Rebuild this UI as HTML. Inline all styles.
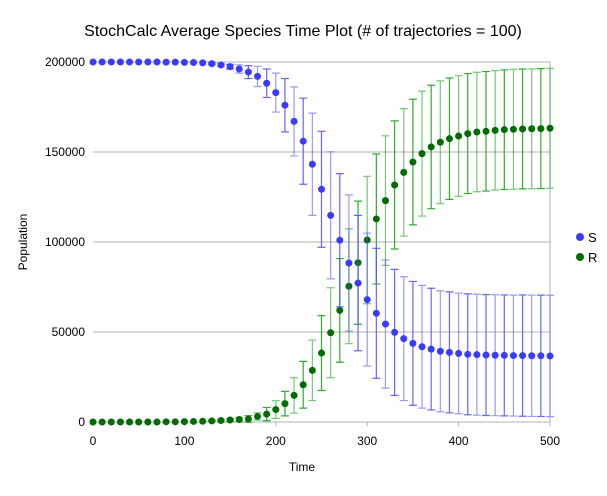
<!DOCTYPE html>
<html><head><meta charset="utf-8"><style>
body{margin:0;background:#fff;font-family:"Liberation Sans",sans-serif}
svg text{font-family:"Liberation Sans",sans-serif}
</style></head><body>
<svg id="c" width="607" height="491"></svg>
<script>
const times=[0,10,20,30,40,50,60,70,80,90,100,110,120,130,140,150,160,170,180,190,200,210,220,230,240,250,260,270,280,290,300,310,320,330,340,350,360,370,380,390,400,410,420,430,440,450,460,470,480,490,500];
const sMean=[200000,200000,200000,200000,200000,200000,200000,200000,199900,199900,199800,199700,199500,199100,198300,197400,196100,194400,192000,188200,183000,176000,167000,156000,143200,129300,114800,101000,88300,77200,68000,60400,54400,49800,46300,43700,41800,40500,39300,38700,38100,37600,37400,37200,37100,37000,36900,36900,36800,36800,36700];
const sSd=[0,0,0,0,0,0,0,0,100,100,200,300,400,600,800,1300,2300,3600,5600,7900,10800,14800,19200,23900,28400,32200,35300,37000,37800,37600,36900,36100,35600,35000,34400,34400,34100,33800,33600,33600,33500,33600,33600,33600,33600,33600,33600,33700,33700,33700,33700];
const rMean=[0,0,0,0,0,0,0,0,100,100,200,300,400,600,800,1100,1400,1700,3100,4400,6900,10200,14800,20700,28700,38300,49600,62000,75400,88500,101100,112800,123000,131700,138700,144400,149100,152800,155400,157400,158900,160200,161100,161500,162000,162400,162600,162800,162900,163000,163200];
const rSd=[0,0,0,0,0,0,0,0,100,100,200,300,400,500,600,800,1200,1800,2000,3700,4900,6800,9800,13000,16800,20800,25000,28800,31900,34200,35400,36100,36000,35600,35400,34900,34700,34300,34100,33700,33500,33300,33200,33200,33200,33200,33300,33300,33300,33300,33300];
const xTicks=[0,100,200,300,400,500];
const yTicks=[0,50000,100000,150000,200000];
const X0=93,X1=550,Y0=422,Y1=62;
const xs=t=>X0+(t/500)*(X1-X0);
const ys=v=>Y0-(v/200000)*(Y0-Y1);
const svg=document.getElementById('c');
const NS='http://www.w3.org/2000/svg';
function mk(tag,attrs,parent){const e=document.createElementNS(NS,tag);for(const k in attrs)e.setAttribute(k,attrs[k]);(parent||svg).appendChild(e);return e;}
yTicks.forEach(v=>{
 const l=mk('line',{x1:X0,x2:X1,y1:ys(v),y2:ys(v),stroke:'#b3b3b3','stroke-width':1});
 
 
 const t=mk('text',{x:85,y:ys(v)+4,'text-anchor':'end','font-size':12,fill:'#000'});
 t.textContent=v;
 
 
});
const bx=mk('line',{x1:X1,x2:X1,y1:Y1,y2:Y0,stroke:'#b3b3b3'});


xTicks.forEach(v=>{
 const tk=mk('line',{x1:xs(v),x2:xs(v),y1:Y0,y2:Y0+4,stroke:'#b3b3b3'});
 
 
 const t=mk('text',{x:xs(v),y:445,'text-anchor':'middle','font-size':12,fill:'#000'});
 t.textContent=v;
 
 
});
function series(mean,sd,barCol,dotCol,name){
 const g=mk('g',{});
 
 
 times.forEach((t,i)=>{
  if(sd[i]>=500){
   const x=xs(t),a=ys(mean[i]+sd[i]),b=ys(mean[i]-sd[i]);
   const eb=mk('path',{d:`M${x-4},${a}H${x+4}M${x},${a}V${b}M${x-4},${b}H${x+4}`,stroke:barCol,'stroke-width':1.2,fill:'none','stroke-opacity':i%2?0.9:0.6},g);
   
   
  }
 });
 times.forEach((t,i)=>{
  const c=mk('circle',{cx:xs(t),cy:ys(mean[i]),r:3.5,fill:dotCol},g);
  
  
 });
}
series(rMean,rSd,'#1aa31a','#006b00','r');
series(sMean,sSd,'#5555ff','#3b3bff','s');
</script>
<svg width="607" height="491" style="position:absolute;left:0;top:0">
<text x="303" y="36" text-anchor="middle" font-size="16">StochCalc Average Species Time Plot (# of trajectories = 100)</text>
<text x="302" y="471" text-anchor="middle" font-size="12">Time</text>
<text transform="translate(27,242) rotate(-90)" text-anchor="middle" font-size="12">Population</text>
<g><circle cx="580" cy="237" r="4" fill="#3b3bff"/><text x="588" y="242" font-size="13">S</text></g>
<g><circle cx="580" cy="257" r="4" fill="#006b00"/><text x="588" y="262" font-size="13">R</text></g>
</svg>
</body></html>
